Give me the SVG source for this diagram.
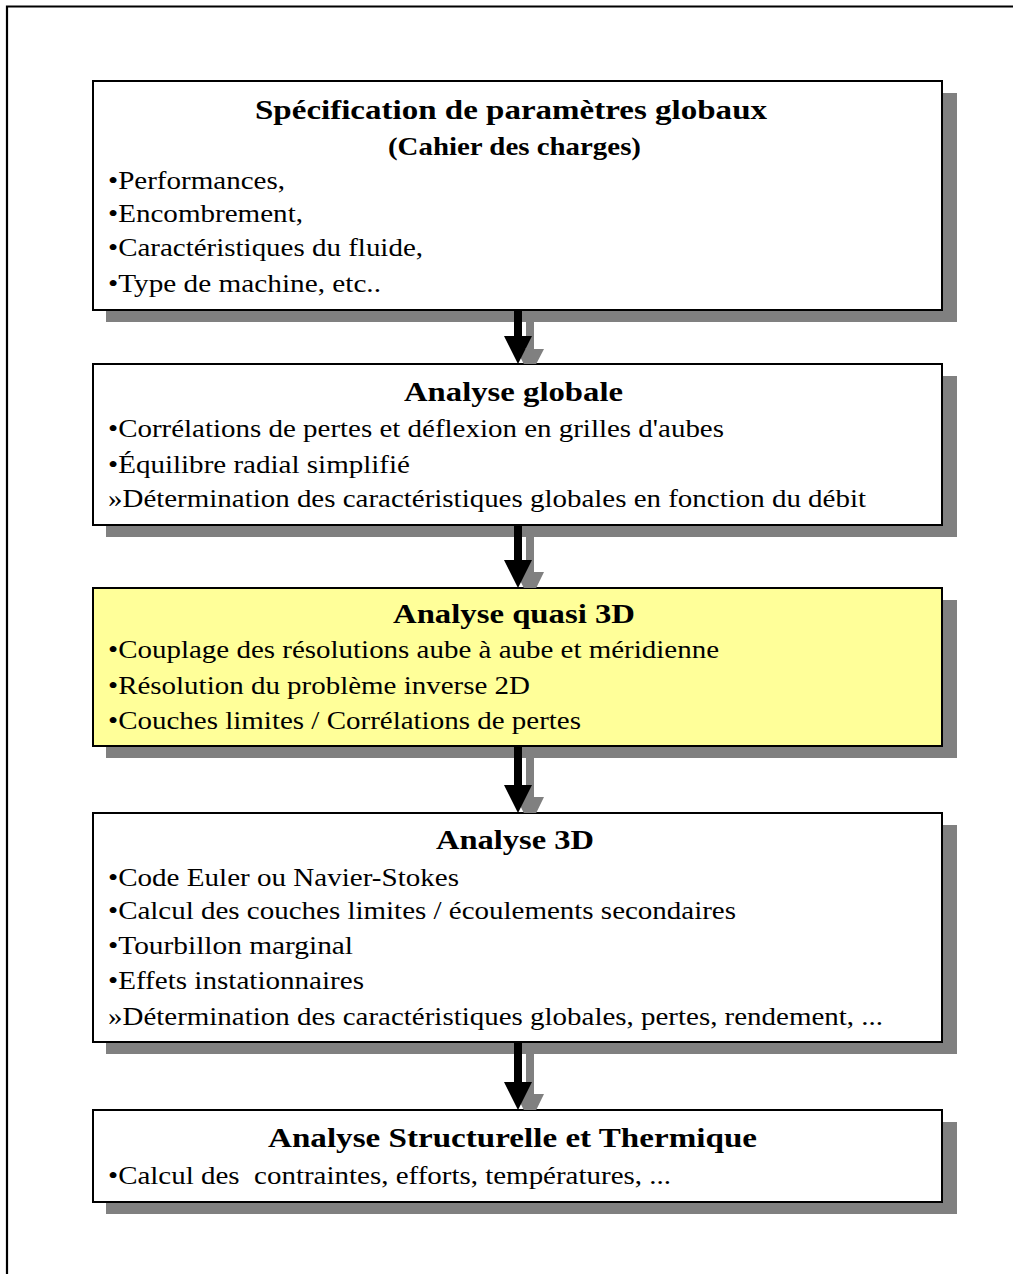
<svg xmlns="http://www.w3.org/2000/svg" width="1013" height="1274" viewBox="0 0 1013 1274">
<style>
.bg{fill:#ffffff}
.frame{fill:none;stroke:#000;stroke-width:2.2}
.shadow{fill:#808080}
.box{fill:#ffffff;stroke:#000;stroke-width:2}
.yellow{fill:#ffff99}
.t{font-family:"Liberation Serif","Times New Roman",serif;fill:#000}
.title{font-size:28px;font-weight:bold}
.sub{font-size:25px;font-weight:bold}
.body{font-size:25px;white-space:pre}
.arr{fill:#000}
.arrsh{fill:#808080}
</style>
<rect class="bg" x="0" y="0" width="1013" height="1274"/>
<path class="frame" d="M7,1274 V6.5 H1013"/>

<g id="node-specification">
<rect class="shadow" x="106" y="93" width="851" height="229"/>
<rect class="box" x="93" y="81" width="849" height="229"/>
<text class="t title" x="511" y="119" text-anchor="middle" textLength="512" lengthAdjust="spacingAndGlyphs">Spécification de paramètres globaux</text>
<text class="t sub" x="514.5" y="155" text-anchor="middle" textLength="253" lengthAdjust="spacingAndGlyphs">(Cahier des charges)</text>
<text class="t body" x="108" y="189" textLength="177" lengthAdjust="spacingAndGlyphs">•Performances,</text>
<text class="t body" x="108" y="222" textLength="195" lengthAdjust="spacingAndGlyphs">•Encombrement,</text>
<text class="t body" x="108" y="256" textLength="315" lengthAdjust="spacingAndGlyphs">•Caractéristiques du fluide,</text>
<text class="t body" x="108" y="292" textLength="273" lengthAdjust="spacingAndGlyphs">•Type de machine, etc..</text>
</g>

<g id="node-analyse-globale">
<rect class="shadow" x="106" y="376" width="851" height="161"/>
<rect class="box" x="93" y="364" width="849" height="161"/>
<text class="t title" x="513.5" y="401" text-anchor="middle" textLength="219" lengthAdjust="spacingAndGlyphs">Analyse globale</text>
<text class="t body" x="108" y="437" textLength="616" lengthAdjust="spacingAndGlyphs">•Corrélations de pertes et déflexion en grilles d'aubes</text>
<text class="t body" x="108" y="473" textLength="302" lengthAdjust="spacingAndGlyphs">•Équilibre radial simplifié</text>
<text class="t body" x="108" y="507" textLength="758" lengthAdjust="spacingAndGlyphs">»Détermination des caractéristiques globales en fonction du débit</text>
</g>

<g id="node-analyse-quasi-3d">
<rect class="shadow" x="106" y="600" width="851" height="158"/>
<rect class="box yellow" x="93" y="588" width="849" height="158"/>
<text class="t title" x="514" y="623" text-anchor="middle" textLength="242" lengthAdjust="spacingAndGlyphs">Analyse quasi 3D</text>
<text class="t body" x="108" y="658" textLength="611" lengthAdjust="spacingAndGlyphs">•Couplage des résolutions aube à aube et méridienne</text>
<text class="t body" x="108" y="694" textLength="422" lengthAdjust="spacingAndGlyphs">•Résolution du problème inverse 2D</text>
<text class="t body" x="108" y="729" textLength="473" lengthAdjust="spacingAndGlyphs">•Couches limites / Corrélations de pertes</text>
</g>

<g id="node-analyse-3d">
<rect class="shadow" x="106" y="825" width="851" height="229"/>
<rect class="box" x="93" y="813" width="849" height="229"/>
<text class="t title" x="515" y="849" text-anchor="middle" textLength="158" lengthAdjust="spacingAndGlyphs">Analyse 3D</text>
<text class="t body" x="108" y="886" textLength="351" lengthAdjust="spacingAndGlyphs">•Code Euler ou Navier-Stokes</text>
<text class="t body" x="108" y="919" textLength="628" lengthAdjust="spacingAndGlyphs">•Calcul des couches limites / écoulements secondaires</text>
<text class="t body" x="108" y="954" textLength="245" lengthAdjust="spacingAndGlyphs">•Tourbillon marginal</text>
<text class="t body" x="108" y="989" textLength="256" lengthAdjust="spacingAndGlyphs">•Effets instationnaires</text>
<text class="t body" x="108" y="1025" textLength="775" lengthAdjust="spacingAndGlyphs">»Détermination des caractéristiques globales, pertes, rendement, ...</text>
</g>

<g id="node-analyse-structurelle">
<rect class="shadow" x="106" y="1122" width="851" height="92"/>
<rect class="box" x="93" y="1110" width="849" height="92"/>
<text class="t title" x="512.5" y="1147" text-anchor="middle" textLength="489" lengthAdjust="spacingAndGlyphs">Analyse Structurelle et Thermique</text>
<text class="t body" x="108" y="1184" textLength="563" lengthAdjust="spacingAndGlyphs" xml:space="preserve">•Calcul des  contraintes, efforts, températures, ...</text>
</g>

<g id="connectors">
<polygon class="arrsh" points="526,322 534,322 534,349 544,349 536.2,364 523.8,364 516,349 526,349"/>
<polygon class="arr" points="514,310 522,310 522,336 532,336 518,364 504,336 514,336"/>
<polygon class="arrsh" points="526,537 534,537 534,572 544,572 536.2,588 523.8,588 516,572 526,572"/>
<polygon class="arr" points="514,525 522,525 522,560 532,560 518,588 504,560 514,560"/>
<polygon class="arrsh" points="526,758 534,758 534,797 544,797 536.2,813 523.8,813 516,797 526,797"/>
<polygon class="arr" points="514,746 522,746 522,785 532,785 518,813 504,785 514,785"/>
<polygon class="arrsh" points="526,1054 534,1054 534,1094 544,1094 536.2,1110 523.8,1110 516,1094 526,1094"/>
<polygon class="arr" points="514,1042 522,1042 522,1082 532,1082 518,1110 504,1082 514,1082"/>
</g>
</svg>
